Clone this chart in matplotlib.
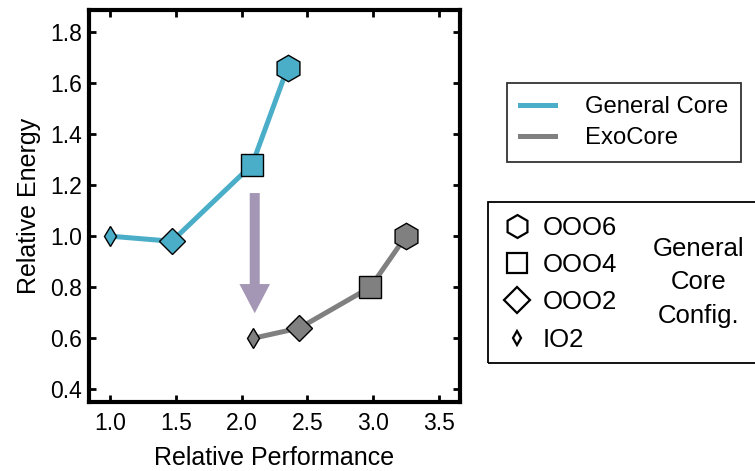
import matplotlib
matplotlib.use("Agg")
import matplotlib.pyplot as plt
from matplotlib.lines import Line2D
from matplotlib.patches import Rectangle

plt.rcParams['font.family'] = ['Liberation Sans', 'DejaVu Sans']

# data
configs = ['IO2', 'OOO2', 'OOO4', 'OOO6']
markers = ['d', 'D', 's', 'h']
msizes = [10, 13, 16, 19]
leg_msizes = [7, 13.5, 15, 16.5]

general_perf = [1.00, 1.47, 2.08, 2.35]
general_energy = [1.00, 0.98, 1.28, 1.66]
exo_perf = [2.09, 2.44, 2.98, 3.25]
exo_energy = [0.60, 0.64, 0.80, 1.00]

cyan = '#4aaec8'
gray = '#808080'

fig = plt.figure(figsize=(7.55, 4.71), dpi=100)
ax = fig.add_axes([0.118, 0.1465, 0.491, 0.832])

ax.plot(general_perf, general_energy, color=cyan, lw=3.6, zorder=2)
ax.plot(exo_perf, exo_energy, color=gray, lw=3.6, zorder=2)
for i in range(len(configs)):
    ax.plot(general_perf[i], general_energy[i], marker=markers[i], ms=msizes[i],
            mfc=cyan, mec='black', mew=1, zorder=3)
    ax.plot(exo_perf[i], exo_energy[i], marker=markers[i], ms=msizes[i],
            mfc=gray, mec='black', mew=1, zorder=3)

# arrow from general core to exocore
ax.annotate('', xy=(2.1, 0.698), xytext=(2.1, 1.169),
            arrowprops=dict(width=7.2, headwidth=22, headlength=21,
                            color='#a497b5', lw=0))

ax.set_xlim(0.84, 3.66)
ax.set_ylim(0.35, 1.886)
ax.set_xticks([1.0, 1.5, 2.0, 2.5, 3.0, 3.5])
ax.set_yticks([0.4, 0.6, 0.8, 1.0, 1.2, 1.4, 1.6, 1.8])
ax.tick_params(direction='in', top=True, right=True, length=5, width=2,
               labelsize=16.5, pad=5)
ax.tick_params(axis='x', pad=7)
for s in ax.spines.values():
    s.set_linewidth(3)
ax.set_xlabel('Relative Performance', fontsize=18, labelpad=8)
ax.set_ylabel('Relative Energy', fontsize=18, labelpad=7)

# legend for the core types
h1 = [Line2D([], [], color=cyan, lw=3.6), Line2D([], [], color=gray, lw=3.6)]
leg = fig.legend(h1, ['General Core', 'ExoCore'], loc='upper left',
                 bbox_to_anchor=(0.6715, 0.8238), borderaxespad=0, fontsize=17.2,
                 fancybox=False, handlelength=1.48, handletextpad=1.23,
                 borderpad=0.55, labelspacing=0.38)
leg.get_frame().set_edgecolor('black')
leg.get_frame().set_linewidth(1.3)

# legend for the core configs
h2 = [Line2D([], [], ls='none', marker=markers[i], ms=leg_msizes[i],
             mfc='white', mec='black', mew=1.6) for i in range(3, -1, -1)]
fig.legend(h2, configs[::-1], loc='upper left', bbox_to_anchor=(0.666, 0.542),
           borderaxespad=0, borderpad=0, fontsize=18.5, frameon=False,
           handlelength=1.09, handletextpad=0.47, labelspacing=0.52)
fig.patches.append(Rectangle((0.646, 0.229), 0.36, 0.342, transform=fig.transFigure,
                             fill=False, ec='black', lw=1.3))
fig.text(0.925, 0.401, 'General\nCore\nConfig.', ha='center', va='center',
         fontsize=18.5, linespacing=1.5)

fig.savefig('out.png', dpi=100)
